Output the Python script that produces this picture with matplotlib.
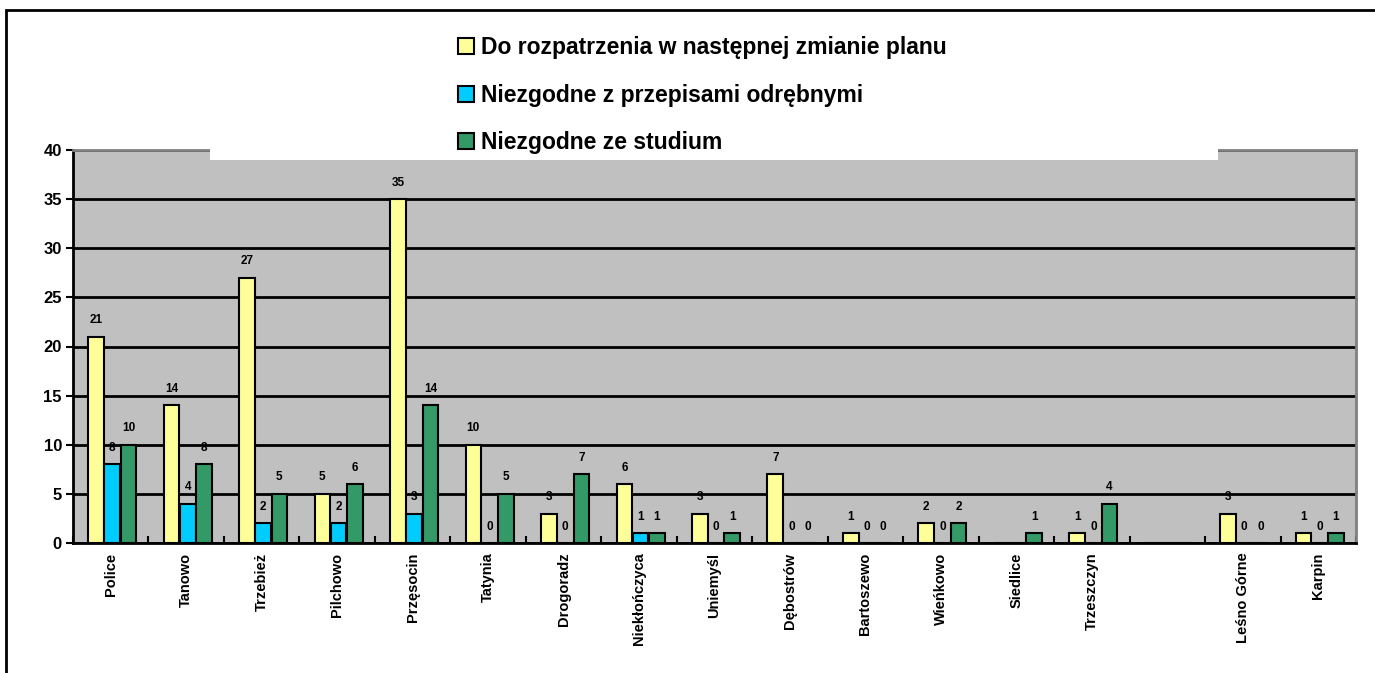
import numpy as np
import matplotlib
matplotlib.use("Agg")
import matplotlib.pyplot as plt
from matplotlib.patches import Rectangle, Patch

plt.rcParams['font.family'] = ['Liberation Sans', 'DejaVu Sans']
plt.rcParams['font.weight'] = 'bold'

# categories (the blank one is an empty slot in the source chart)
places = ["Police", "Tanowo", "Trzebież", "Pilchowo", "Przęsocin", "Tatynia",
          "Drogoradz", "Niekłończyca", "Uniemyśl", "Dębostrów", "Bartoszewo",
          "Wieńkowo", "Siedlice", "Trzeszczyn", "", "Leśno Górne", "Karpin"]
nan = np.nan
do_rozpatrzenia = [21, 14, 27, 5, 35, 10, 3, 6, 3, 7, 1, 2, nan, 1, nan, 3, 1]
niezgodne_przepisy = [8, 4, 2, 2, 3, 0, 0, 1, 0, 0, 0, 0, nan, 0, nan, 0, 0]
niezgodne_studium = [10, 8, 5, 6, 14, 5, 7, 1, 1, 0, 0, 2, 1, 4, nan, 0, 1]

series = [
    ("Do rozpatrzenia w następnej zmianie planu", do_rozpatrzenia, "#FFFF99"),
    ("Niezgodne z przepisami odrębnymi", niezgodne_przepisy, "#00CCFF"),
    ("Niezgodne ze studium", niezgodne_studium, "#339966"),
]

W, H = 1375, 673
fig = plt.figure(figsize=(W / 100, H / 100), dpi=100)
ax = fig.add_axes([73 / W, 1 - 543 / H, (1356 - 73) / W, (543 - 150) / H])
ax.set_facecolor("#C0C0C0")

x = np.arange(len(places))
bw = 0.215
for i, (name, vals, col) in enumerate(series):
    vals = np.array(vals, dtype=float)
    xs = x + (i - 1) * bw + 0.02
    ax.bar(xs, np.nan_to_num(vals), bw * 0.96, color=col, edgecolor="black", linewidth=1.5, zorder=3)
    for xi, v in zip(xs, vals):
        if np.isnan(v):
            continue
        ax.annotate(f"{int(v)}", (xi, v), xytext=(0, 7.5), textcoords="offset points",
                    ha="center", va="bottom", fontsize=8.5, fontweight="bold", zorder=4)

ax.set_xlim(-0.5, len(places) - 0.5)
ax.set_ylim(0, 40)
ax.set_yticks(range(0, 41, 5))
ax.yaxis.grid(True, color="black", linewidth=2, zorder=1)
ax.set_axisbelow(True)
ax.tick_params(axis="y", direction="out", length=5, width=1.5, labelsize=12, pad=3)
for lab in ax.get_yticklabels():
    lab.set_fontweight("bold")

ax.set_xticks(x)
ax.set_xticklabels(places, rotation=90, fontsize=10.5, fontweight="bold")
ax.tick_params(axis="x", length=0, pad=7)
ax.set_xticks(np.arange(-0.5, len(places), 1.0), minor=True)
ax.tick_params(axis="x", which="minor", direction="in", length=5, width=1.5)

ax.spines["left"].set_linewidth(2)
ax.spines["bottom"].set_linewidth(2)
ax.spines["top"].set_color("#808080")
ax.spines["right"].set_color("#808080")
ax.spines["top"].set_linewidth(2)
ax.spines["right"].set_linewidth(2)

# white legend box covering the top of the plot area
fig.patches.append(Rectangle((210 / W, 1 - 160 / H), (1218 - 210) / W, 140 / H,
                             transform=fig.transFigure, facecolor="white",
                             edgecolor="none", zorder=3))
handles = [Patch(facecolor=c, edgecolor="black", linewidth=1.5, label=n) for n, _, c in series]
leg = fig.legend(handles=handles, loc="upper left", bbox_to_anchor=(449 / W, 1 - 27 / H),
                 frameon=False, fontsize=16.5, handlelength=0.7, handleheight=0.7,
                 handletextpad=0.3, labelspacing=1.07, borderaxespad=0)
leg.set_zorder(5)
for t in leg.get_texts():
    t.set_fontweight("bold")

# outer chart border
fig.patches.append(Rectangle((6 / W, -0.1), 1.2, 1.1 - 10 / H, transform=fig.transFigure,
                             fill=False, edgecolor="black", linewidth=2, zorder=6))

fig.savefig("out.png", dpi=100)
